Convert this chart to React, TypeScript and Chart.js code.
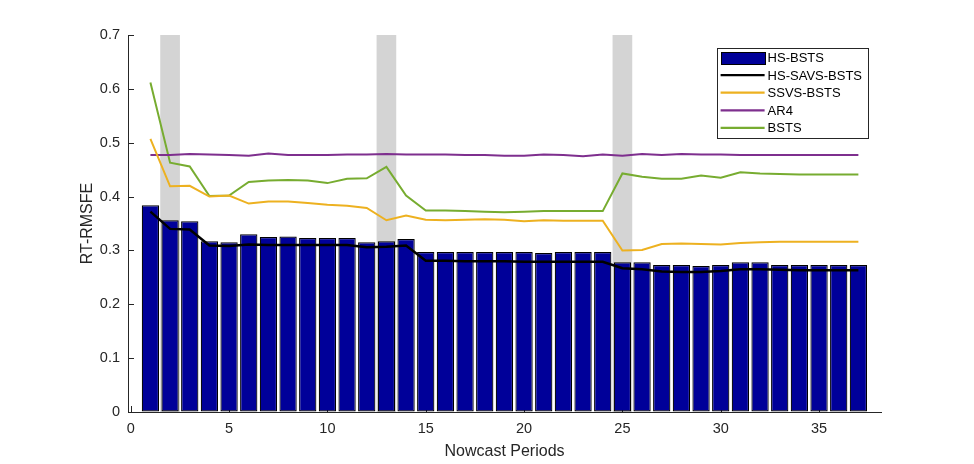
import { useEffect, useRef } from 'react'
import { Chart, registerables } from 'chart.js'
import type { Plugin } from 'chart.js'

Chart.register(...registerables)

// Nowcast periods (x categories)
const periods = [
  1, 2, 3, 4, 5, 6, 7, 8, 9, 10, 11, 12, 13, 14, 15, 16, 17, 18, 19, 20,
  21, 22, 23, 24, 25, 26, 27, 28, 29, 30, 31, 32, 33, 34, 35, 36, 37
]

const hsBsts = [
  0.384, 0.356, 0.354, 0.317, 0.315, 0.330, 0.325, 0.326, 0.323, 0.323,
  0.323, 0.315, 0.317, 0.321, 0.297, 0.297, 0.297, 0.297, 0.297, 0.297,
  0.295, 0.297, 0.297, 0.297, 0.278, 0.278, 0.273, 0.273, 0.271, 0.273,
  0.278, 0.278, 0.273, 0.273, 0.273, 0.273, 0.273
]

const hsSavsBsts = [
  0.372, 0.340, 0.339, 0.309, 0.308, 0.311, 0.310, 0.310, 0.310, 0.310,
  0.310, 0.306, 0.307, 0.309, 0.281, 0.281, 0.280, 0.280, 0.280, 0.279,
  0.279, 0.279, 0.279, 0.279, 0.267, 0.265, 0.261, 0.260, 0.260, 0.262,
  0.265, 0.265, 0.264, 0.263, 0.263, 0.263, 0.263
]

const ssvsBsts = [
  0.507, 0.419, 0.420, 0.400, 0.402, 0.387, 0.391, 0.391, 0.388, 0.385,
  0.383, 0.379, 0.356, 0.365, 0.357, 0.356, 0.357, 0.358, 0.357, 0.354,
  0.356, 0.355, 0.355, 0.355, 0.300, 0.301, 0.312, 0.313, 0.312, 0.311,
  0.314, 0.315, 0.316, 0.316, 0.316, 0.316, 0.316
]

const ar4 = [
  0.477, 0.477, 0.479, 0.478, 0.477, 0.476, 0.480, 0.477, 0.477, 0.477,
  0.478, 0.478, 0.479, 0.478, 0.478, 0.478, 0.477, 0.477, 0.476, 0.476,
  0.478, 0.477, 0.475, 0.478, 0.476, 0.479, 0.477, 0.479, 0.478, 0.478,
  0.477, 0.477, 0.477, 0.477, 0.477, 0.477, 0.477
]

const bsts = [
  0.612, 0.463, 0.456, 0.401, 0.402, 0.427, 0.430, 0.431, 0.430, 0.425,
  0.433, 0.434, 0.455, 0.402, 0.374, 0.374, 0.373, 0.372, 0.371, 0.372,
  0.373, 0.373, 0.373, 0.373, 0.443, 0.437, 0.433, 0.433, 0.439, 0.435,
  0.445, 0.443, 0.442, 0.441, 0.441, 0.441, 0.441
]

// shaded periods [start, end]
const bands = [
  [1.5, 2.5],
  [12.5, 13.5],
  [24.5, 25.5]
]

const xTicks = [0, 5, 10, 15, 20, 25, 30, 35]
const yTicks = [0, 0.1, 0.2, 0.3, 0.4, 0.5, 0.6, 0.7]

const AXIS = '#262626'
const FONT = '"Liberation Sans", Arial, Helvetica, sans-serif'

const toPoints = (vals: number[]) => periods.map((p, i) => ({ x: p, y: vals[i] }))

// gray bands + inward tick marks, behind the bars
const backdrop: Plugin = {
  id: 'backdrop',
  beforeDatasetsDraw(chart) {
    const { ctx, chartArea, scales } = chart
    const x = scales.x
    const y = scales.y
    ctx.save()
    ctx.fillStyle = '#d4d4d4'
    bands.forEach(([a, b]) => {
      const x0 = x.getPixelForValue(a)
      const x1 = x.getPixelForValue(b)
      ctx.fillRect(x0, chartArea.top, x1 - x0, chartArea.bottom - chartArea.top)
    })
    ctx.strokeStyle = AXIS
    ctx.lineWidth = 1
    ctx.beginPath()
    xTicks.forEach(t => {
      const px = Math.round(x.getPixelForValue(t)) + 0.5
      ctx.moveTo(px, chartArea.bottom)
      ctx.lineTo(px, chartArea.bottom - 6)
    })
    yTicks.forEach(t => {
      const py = Math.round(y.getPixelForValue(t)) + 0.5
      ctx.moveTo(chartArea.left, py)
      ctx.lineTo(chartArea.left + 6, py)
    })
    ctx.stroke()
    ctx.restore()
  }
}

// boxed legend in the upper right of the plot area
const boxLegend: Plugin = {
  id: 'boxLegend',
  afterDraw(chart) {
    const { ctx, chartArea } = chart
    const sets = chart.data.datasets as any[]
    ctx.save()
    ctx.font = `13px ${FONT}`
    const textW = Math.max(...sets.map(d => ctx.measureText(d.label).width))
    const rowH = 17.6
    const w = 51 + textW + 6
    const h = sets.length * rowH + 2
    const right = chartArea.right - 13
    const left = right - w
    const top = chartArea.top + 13
    ctx.fillStyle = '#fff'
    ctx.fillRect(left, top, w, h)
    ctx.strokeStyle = AXIS
    ctx.lineWidth = 1
    ctx.strokeRect(Math.round(left) + 0.5, Math.round(top) + 0.5, Math.round(w), Math.round(h))
    sets.forEach((d, i) => {
      const cy = top + 9.5 + i * rowH
      if (d.type === 'bar') {
        ctx.fillStyle = d.backgroundColor
        ctx.fillRect(Math.round(left + 4), Math.round(cy - 6), 44, 12)
        ctx.strokeStyle = '#000'
        ctx.strokeRect(Math.round(left + 4) + 0.5, Math.round(cy - 6) + 0.5, 44, 12)
      } else {
        ctx.strokeStyle = d.borderColor
        ctx.lineWidth = 2.2
        ctx.beginPath()
        ctx.moveTo(left + 4, cy)
        ctx.lineTo(left + 48, cy)
        ctx.stroke()
      }
      ctx.fillStyle = '#000'
      ctx.textBaseline = 'middle'
      ctx.textAlign = 'left'
      ctx.fillText(d.label, left + 51, cy + 1)
    })
    ctx.restore()
  }
}

export default function App() {
  const canvasRef = useRef<HTMLCanvasElement>(null)
  const chartRef = useRef<Chart | null>(null)

  useEffect(() => {
    if (!canvasRef.current) return
    if (chartRef.current) chartRef.current.destroy()

    chartRef.current = new Chart(canvasRef.current, {
      type: 'bar',
      data: {
        datasets: [
          {
            type: 'bar',
            label: 'HS-BSTS',
            data: toPoints(hsBsts),
            backgroundColor: '#000099',
            borderColor: '#000000',
            borderWidth: 1.2,
            borderSkipped: false,
            inflateAmount: 0,
            barPercentage: 0.88,
            categoryPercentage: 1,
            order: 1
          },
          {
            type: 'line',
            label: 'HS-SAVS-BSTS',
            data: toPoints(hsSavsBsts),
            borderColor: '#000000',
            borderWidth: 2.5,
            pointRadius: 0,
            order: 0
          },
          {
            type: 'line',
            label: 'SSVS-BSTS',
            data: toPoints(ssvsBsts),
            borderColor: '#EDB120',
            borderWidth: 2,
            pointRadius: 0,
            order: 0
          },
          {
            type: 'line',
            label: 'AR4',
            data: toPoints(ar4),
            borderColor: '#7E2F8E',
            borderWidth: 2,
            pointRadius: 0,
            order: 0
          },
          {
            type: 'line',
            label: 'BSTS',
            data: toPoints(bsts),
            borderColor: '#77AC30',
            borderWidth: 2,
            pointRadius: 0,
            order: 0
          }
        ] as any
      },
      options: {
        animation: false,
        responsive: true,
        maintainAspectRatio: false,
        layout: { padding: { left: 0, right: 93, top: 35, bottom: 0 } },
        plugins: {
          legend: { display: false },
          tooltip: { enabled: false }
        },
        scales: {
          x: {
            type: 'linear',
            min: -0.14,
            max: 38.15,
            offset: false,
            afterFit: (s: any) => { s.height = 52 },
            afterBuildTicks: (s: any) => { s.ticks = xTicks.map(v => ({ value: v })) },
            grid: { display: true, drawOnChartArea: false, drawTicks: false },
            border: { display: true, color: AXIS, width: 1 },
            ticks: {
              color: AXIS,
              padding: 8,
              maxRotation: 0,
              font: { family: FONT, size: 14.5 },
              callback: (v: any) => String(v)
            },
            title: {
              display: true,
              text: 'Nowcast Periods',
              color: AXIS,
              font: { family: FONT, size: 16 },
              padding: { top: 0, bottom: 3 }
            }
          },
          y: {
            min: 0,
            max: 0.7,
            afterFit: (s: any) => { s.width = 128 },
            afterBuildTicks: (s: any) => { s.ticks = yTicks.map(v => ({ value: v })) },
            grid: { display: true, drawOnChartArea: false, drawTicks: false },
            border: { display: true, color: AXIS, width: 1 },
            ticks: {
              color: AXIS,
              padding: 8,
              font: { family: FONT, size: 14.5 },
              callback: (v: any) => String(Math.round(Number(v) * 10) / 10)
            },
            title: {
              display: true,
              text: 'RT-RMSFE',
              color: AXIS,
              font: { family: FONT, size: 16 },
              padding: { top: 78, bottom: 0 }
            }
          }
        }
      },
      plugins: [backdrop, boxLegend]
    })

    return () => {
      if (chartRef.current) {
        chartRef.current.destroy()
        chartRef.current = null
      }
    }
  }, [])

  return (
    <div style={{ position: 'fixed', left: 0, top: 0, width: 974, height: 464, background: '#fff' }}>
      <canvas ref={canvasRef}></canvas>
    </div>
  )
}
